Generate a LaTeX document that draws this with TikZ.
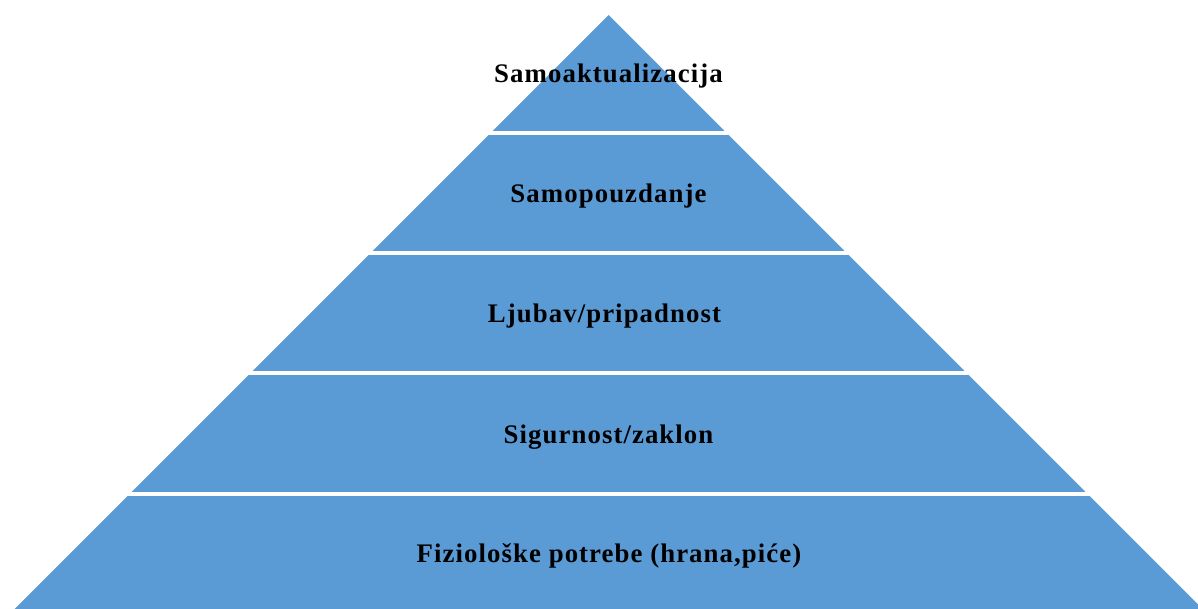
\documentclass[tikz,border=0pt]{standalone}
\usepackage{fontspec}
\setmainfont{Liberation Serif}
\newfontfamily\pyrfont[LetterSpace=4]{Liberation Serif}
\usepackage{tikz}
\definecolor{pyrblue}{HTML}{5B9BD5}
\tikzstyle{level}=[font=\pyrfont\bfseries\fontsize{26.8}{31}\selectfont,text=black,anchor=center]
\tikzstyle{gap}=[draw=white,line width=3.5pt]

\begin{document}
\begin{tikzpicture}[x=1pt,y=-1pt]
			\useasboundingbox (0,0) rectangle (1198,608);
			\begin{scope}
			\clip (0,0) rectangle (1198,608);
			\fill[pyrblue] (608.5,15) -- (1213,619.5) -- (4,619.5) -- cycle;
			\end{scope}
			
			\foreach \y in {133,253,373,494}
				\draw[gap] (0,\y) -- (1198,\y);
			
			\node [level] (lvl5) at (608.5,76) {Samoaktualizacija};
			\node [level] (lvl4) at (608.5,196) {Samopouzdanje};
			\node [level] (lvl3) at (604.5,316) {Ljubav/pripadnost};
			\node [level] (lvl2) at (608.5,437) {Sigurnost/zaklon};
			\node [level] (lvl1) at (609,556) {Fiziološke potrebe (hrana,piće)};
			\end{tikzpicture}
\end{document}
